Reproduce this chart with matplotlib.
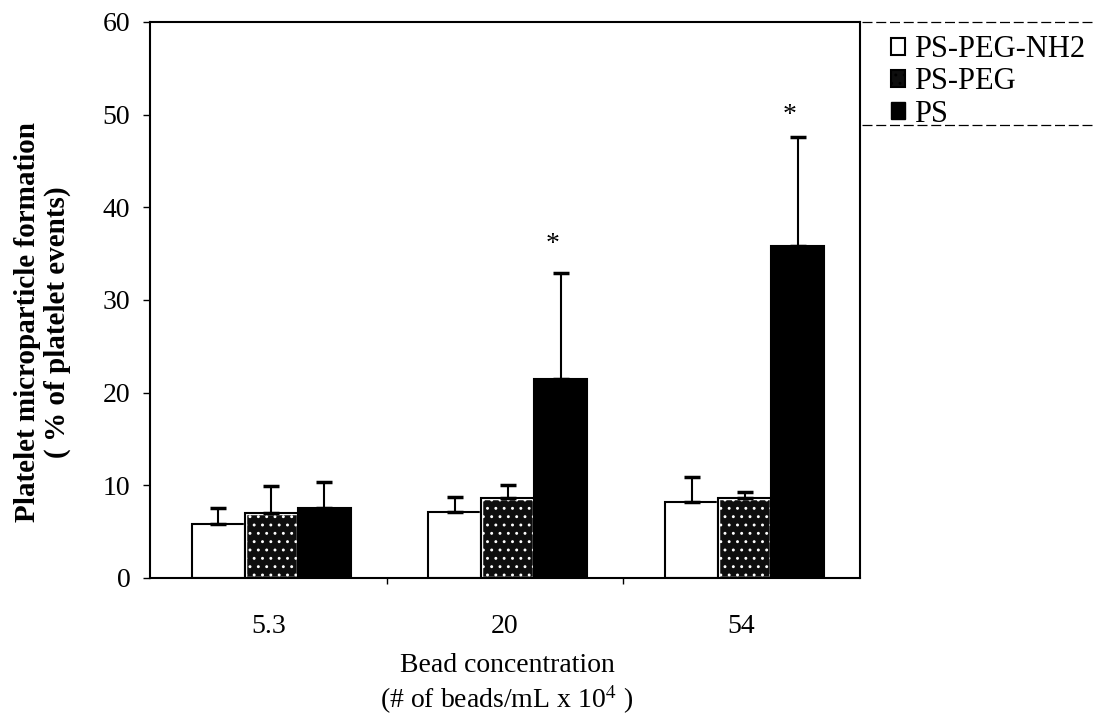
import numpy as np
import matplotlib
matplotlib.use('Agg')
import matplotlib.pyplot as plt
from matplotlib.patches import Patch
from matplotlib.lines import Line2D

plt.rcParams['font.family'] = ['Liberation Serif', 'DejaVu Serif']
plt.rcParams['mathtext.fontset'] = 'stix'
plt.rcParams['hatch.linewidth'] = 0.9

categories = ['5.3', '20', '54']
series = ['PS-PEG-NH2', 'PS-PEG', 'PS']
means = {
    'PS-PEG-NH2': [5.8, 7.1, 8.2],
    'PS-PEG': [7.0, 8.6, 8.6],
    'PS': [7.6, 21.5, 35.8],
}
errors = {
    'PS-PEG-NH2': [1.8, 1.6, 2.7],
    'PS-PEG': [2.9, 1.4, 0.7],
    'PS': [2.8, 11.4, 11.8],
}
star_cats = [1, 2]
star_y = [36.0, 49.9]

fig = plt.figure(figsize=(10.94, 7.23), dpi=100)
ax = fig.add_axes([0.137, 0.2006, 0.649, 0.769])

x = np.arange(len(categories)) + 0.013
w = 0.224
offsets = [-w, 0, w]

for i, s in enumerate(series):
    xs = x + offsets[i]
    if s == 'PS-PEG-NH2':
        ax.bar(xs, means[s], w, color='white', edgecolor='black', linewidth=1.5, zorder=2)
    elif s == 'PS-PEG':
        ax.bar(xs, means[s], w, color='#0e0e0e', edgecolor='white', hatch='..',
               linewidth=2.5, zorder=2)
        ax.bar(xs, means[s], w, fill=False, edgecolor='black', linewidth=1.5, zorder=3)
    else:
        ax.bar(xs, means[s], w, color='black', edgecolor='black', linewidth=1.5, zorder=2)
    ax.errorbar(xs, means[s], yerr=[np.zeros(3), errors[s]], fmt='none',
                ecolor='black', elinewidth=1.5, capsize=6, capthick=2.5, zorder=4)

for c, yv in zip(star_cats, star_y):
    ax.text(x[c] + w - 0.035, yv, '*', ha='center', va='center', fontsize=20)

ax.set_xlim(-0.5, 2.5)
ax.set_ylim(0, 60)
ax.set_yticks(range(0, 61, 10))
ax.set_xticks(np.arange(3))
ax.set_xticklabels(categories)
ax.set_xticks([0.5, 1.5], minor=True)
ax.tick_params(axis='x', which='major', length=0, pad=26, labelsize=20)
ax.tick_params(axis='x', which='minor', length=4, direction='out', width=1)
ax.tick_params(axis='y', length=5, width=1, direction='out', labelsize=20, pad=9)
for sp in ax.spines.values():
    sp.set_linewidth(1.5)

fig.text(0.0247, 0.555, 'Platelet microparticle formation', rotation=90,
         ha='center', va='center', fontsize=21, fontweight='bold')
fig.text(0.052, 0.555, '( % of platelet events)', rotation=90,
         ha='center', va='center', fontsize=21, fontweight='bold')
fig.text(0.4635, 0.080, 'Bead concentration', ha='center', va='center', fontsize=20)
fig.text(0.4635, 0.032, '(# of beads/mL x 10$^4$ )', ha='center', va='center', fontsize=20)

handles = [Patch(facecolor='white', edgecolor='black', linewidth=1.5),
           Patch(facecolor='#0e0e0e', edgecolor='black', hatch='..', linewidth=1.5),
           Patch(facecolor='black', edgecolor='black')]
leg = fig.legend(handles, series, loc='upper left', bbox_to_anchor=(0.8144, 0.951),
                 frameon=False, fontsize=22, handlelength=0.45, handleheight=0.45,
                 handletextpad=0.3, labelspacing=0.1, borderpad=0, borderaxespad=0)

# dashed lines above and below the legend, as in the original
for yy in [1 - 22 / 723, 1 - 125 / 723]:
    fig.add_artist(Line2D([862 / 1094, 1.0], [yy, yy], transform=fig.transFigure,
                          color='black', linewidth=0.9, linestyle=(0, (8, 3))))

fig.savefig('out.png', dpi=100)
